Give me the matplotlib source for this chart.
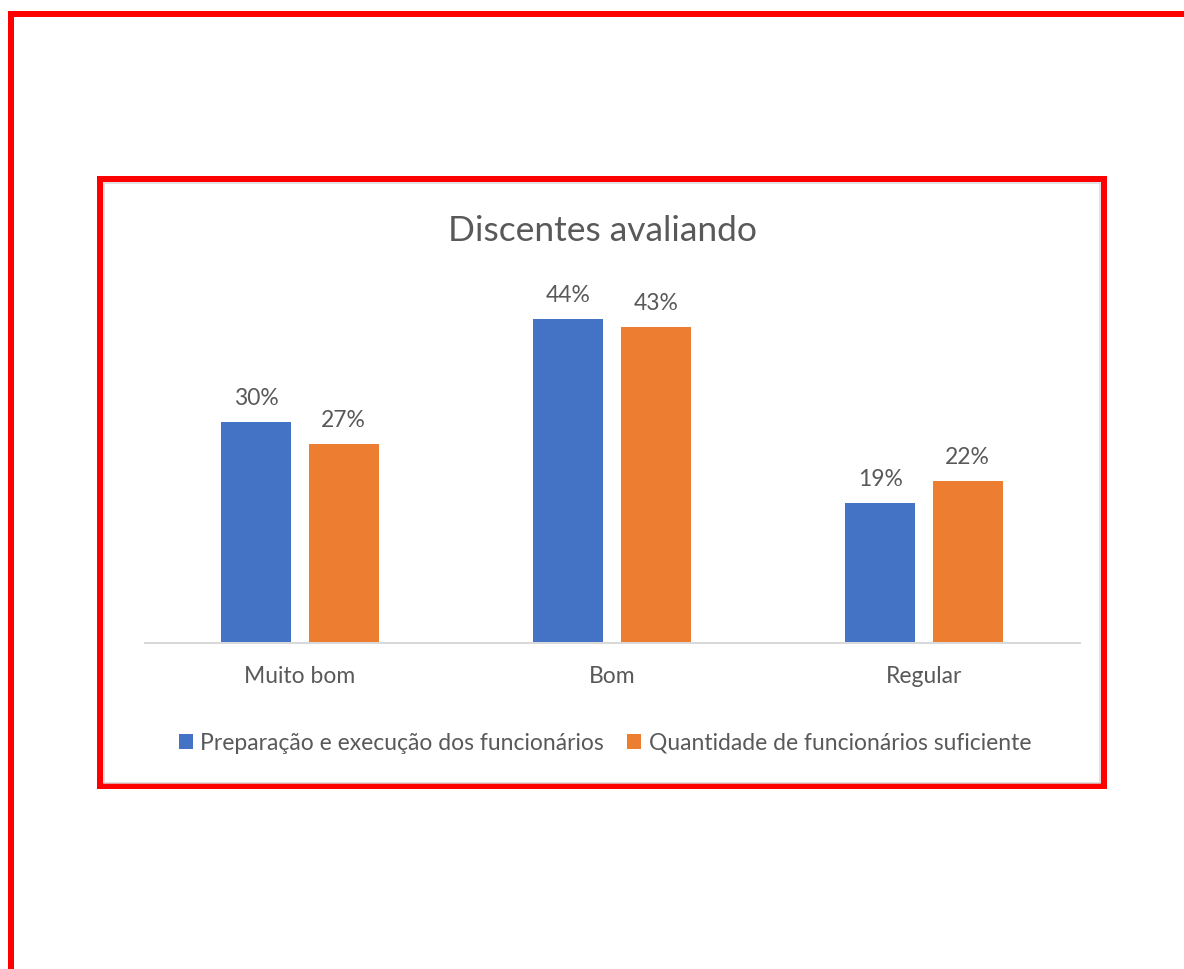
import matplotlib
matplotlib.use("Agg")
import matplotlib.pyplot as plt
from matplotlib.patches import Rectangle
import numpy as np

categories = ["Muito bom", "Bom", "Regular"]
series_names = ["Preparação e execução dos funcionários",
                "Quantidade de funcionários suficiente"]
prep_values = [30, 44, 19]
quant_values = [27, 43, 22]
colors = ["#4472C4", "#ED7D31"]
title = "Discentes avaliando"

W, H = 1184, 969
plt.rcParams['font.family'] = ['Lato', 'DejaVu Sans']
fig = plt.figure(figsize=(W / 100, H / 100), dpi=100)
fig.patch.set_facecolor("white")

def fx(px):
    return px / W

def fy(py):
    return 1 - py / H

def px2pt(px):
    return px * 0.72

# outer red border (left and top visible)
fig.patches.append(Rectangle((fx(11), fy(1100)), fx(1300), fy(14) - fy(1100),
                             transform=fig.transFigure, fill=False,
                             edgecolor="#FF0000", linewidth=px2pt(6)))
# inner red frame
fig.patches.append(Rectangle((fx(100), fy(786)), fx(1103.5) - fx(100), fy(179) - fy(786),
                             transform=fig.transFigure, fill=False,
                             edgecolor="#FF0000", linewidth=px2pt(6)))
# chart gray border
fig.patches.append(Rectangle((fx(104), fy(782.5)), fx(1099.5) - fx(104), fy(183) - fy(782.5),
                             transform=fig.transFigure, fill=False,
                             edgecolor="#D9D9D9", linewidth=px2pt(1.5)))

# axes: x from 145 to 1080 px, baseline at 643, top at 275 (ylim 0..50)
ax_left, ax_right = 145, 1080
ax_bottom, ax_top = 643, 643 - 50 * 7.36
ax = fig.add_axes([fx(ax_left), fy(ax_bottom), fx(ax_right - ax_left), fy(ax_top) - fy(ax_bottom)])
ax.set_facecolor("none")

x = np.arange(len(categories))
width = 0.224
offset = 0.14
b1 = ax.bar(x - offset, prep_values, width, color=colors[0], label=series_names[0])
b2 = ax.bar(x + offset, quant_values, width, color=colors[1], label=series_names[1])

ax.set_xlim(-0.497, 2.5)
ax.set_ylim(0, 50)

text_color = "#595959"
small = 16.5
for bars, vals in ((b1, prep_values), (b2, quant_values)):
    for rect, v in zip(bars, vals):
        ax.annotate(f"{v}%", (rect.get_x() + rect.get_width() / 2, rect.get_height()),
                    xytext=(0, px2pt(17)), textcoords="offset points",
                    ha="center", va="baseline", fontsize=small, color=text_color)

for s in ("top", "right", "left"):
    ax.spines[s].set_visible(False)
ax.spines["bottom"].set_color("#D9D9D9")
ax.spines["bottom"].set_linewidth(px2pt(2))
ax.set_yticks([])
ax.set_xticks(x)
ax.set_xticklabels(categories, fontsize=small, color=text_color)
ax.tick_params(axis="x", length=0, pad=px2pt(23))

fig.text(fx(602), fy(231), title, ha="center", va="center", fontsize=25.5, color=text_color)

leg = fig.legend(handles=[b1, b2], labels=series_names, loc="center",
                 bbox_to_anchor=(fx(605), fy(743)), ncol=2, frameon=False,
                 fontsize=small, labelcolor=text_color, handlelength=0.62,
                 handleheight=0.62, handletextpad=0.32, columnspacing=1.0)

fig.savefig("out.png", dpi=100)
